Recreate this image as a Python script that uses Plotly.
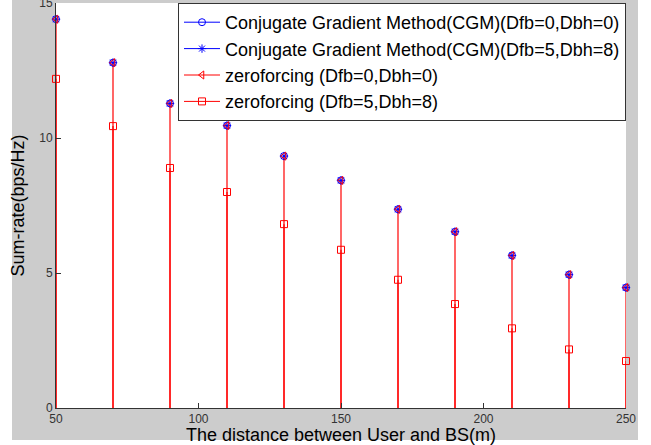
import plotly.graph_objects as go

distance = [50, 70, 90, 110, 130, 150, 170, 190, 210, 230, 250]
cgm_0_0 = [14.40, 12.79, 11.28, 10.46, 9.33, 8.43, 7.36, 6.53, 5.65, 4.94, 4.46]
cgm_5_8 = [14.40, 12.79, 11.28, 10.46, 9.33, 8.43, 7.36, 6.53, 5.65, 4.94, 4.46]
zf_0_0 = [14.40, 12.79, 11.28, 10.46, 9.33, 8.43, 7.36, 6.53, 5.65, 4.94, 4.46]
zf_5_8 = [12.19, 10.44, 8.89, 8.00, 6.81, 5.86, 4.75, 3.85, 2.95, 2.17, 1.74]

# (name, values, colour, marker symbol, marker size, stem visible)
series = [
    ("Conjugate Gradient Method(CGM)(Dfb=0,Dbh=0)", cgm_0_0, "#0000ff", "circle-open", 7, False),
    ("Conjugate Gradient Method(CGM)(Dfb=5,Dbh=8)", cgm_5_8, "#0000ff", "asterisk-open", 7, False),
    ("zeroforcing (Dfb=0,Dbh=0)", zf_0_0, "#ff0000", "triangle-left-open", 7, True),
    ("zeroforcing (Dfb=5,Dbh=8)", zf_5_8, "#ff0000", "square-open", 7, True),
]

fig = go.Figure()
# stems (the blue CGM stems are completely hidden under the red ones in the original)
for name, vals, color, sym, size, stem in series:
    if not stem:
        continue
    sx, sy = [], []
    for xv, yv in zip(distance, vals):
        sx += [xv, xv, None]
        sy += [0, yv, None]
    fig.add_trace(go.Scatter(x=sx, y=sy, mode="lines", line=dict(color=color, width=1.2),
                             showlegend=False, hoverinfo="skip", cliponaxis=False))
# markers
for name, vals, color, sym, size, stem in series:
    mx, my = [], []
    for xv, yv in zip(distance, vals):
        mx += [xv, None]
        my += [yv, None]
    fig.add_trace(go.Scatter(x=mx, y=my, mode="lines+markers", name=name,
                             line=dict(color=color, width=1),
                             marker=dict(symbol=sym, size=size, color=color,
                                         line=dict(color=color, width=1)),
                             cliponaxis=False))

W, H = 651, 445
L, R, T, B = 56, 25, 3, 37
pw, ph = W - L - R, H - T - B

def px_x(p):
    return (p - L) / pw

def px_y(p):
    return (H - B - p) / ph

shapes = [
    dict(type="rect", xref="paper", yref="paper", x0=px_x(0), x1=px_x(12), y0=px_y(H), y1=px_y(0),
         fillcolor="white", line=dict(width=0), layer="below"),
    dict(type="rect", xref="paper", yref="paper", x0=px_x(638), x1=px_x(W), y0=px_y(H), y1=px_y(0),
         fillcolor="white", line=dict(width=0), layer="below"),
    dict(type="rect", xref="paper", yref="paper", x0=px_x(0), x1=px_x(W), y0=px_y(H), y1=px_y(440),
         fillcolor="white", line=dict(width=0), layer="below"),
]

fig.update_layout(
    width=W, height=H,
    margin=dict(l=L, r=R, t=T, b=B, pad=0, autoexpand=False),
    paper_bgcolor="#cccccc",
    plot_bgcolor="white",
    font=dict(family="Liberation Sans, Arial, sans-serif", color="#000000"),
    shapes=shapes,
    showlegend=True,
    legend=dict(x=1, xanchor="right", y=1, yanchor="top",
                bgcolor="white", bordercolor="#333333", borderwidth=1,
                font=dict(size=18, color="#000000"), itemwidth=36,
                tracegroupgap=0),
    xaxis=dict(range=[50, 250], tickvals=[50, 100, 150, 200, 250], automargin=False,
               ticks="inside", ticklen=5, tickcolor="#333333",
               showline=True, linecolor="#333333", linewidth=1,
               showgrid=False, zeroline=False, mirror=False,
               tickfont=dict(size=12, color="#333333"),
               title=dict(text="The distance between User and BS(m)", font=dict(size=18), standoff=0)),
    yaxis=dict(range=[0, 15], tickvals=[0, 5, 10, 15], automargin=False,
               ticks="inside", ticklen=5, tickcolor="#333333",
               showline=True, linecolor="#333333", linewidth=1,
               showgrid=False, zeroline=False, mirror=False,
               ticklabeloverflow="allow",
               tickfont=dict(size=12, color="#333333"),
               title=dict(text="Sum-rate(bps/Hz)", font=dict(size=18), standoff=9)),
)

fig.write_html("out.html", config={"displayModeBar": False},
               post_script="document.body.style.margin='0';document.body.style.padding='0';")
